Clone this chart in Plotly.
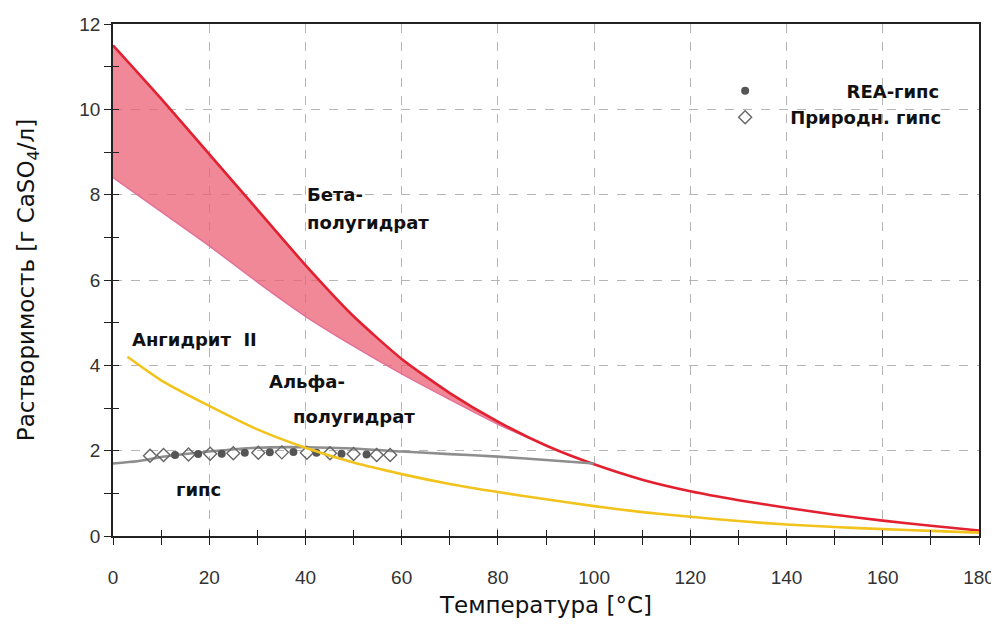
import plotly.graph_objects as go

# ---------------- data ----------------
T_beta = [0, 10, 20, 30, 40, 50, 60, 70, 80, 90, 100, 110, 120, 130, 140, 150, 160, 170, 180]
beta_upper = [11.5, 10.25, 8.95, 7.65, 6.35, 5.15, 4.15, 3.35, 2.68, 2.12, 1.68, 1.32, 1.05, 0.84, 0.66, 0.5, 0.36, 0.24, 0.13]

T_alpha = [0, 10, 20, 30, 40, 50, 60, 70, 80, 90]
beta_lower = [8.4, 7.6, 6.8, 5.95, 5.15, 4.45, 3.8, 3.2, 2.62, 2.12]

T_anh = [3, 10, 20, 30, 40, 50, 60, 70, 80, 90, 100, 110, 120, 130, 140, 150, 160, 170, 180]
anhydrite = [4.2, 3.65, 3.05, 2.5, 2.07, 1.72, 1.45, 1.22, 1.03, 0.86, 0.7, 0.56, 0.45, 0.35, 0.27, 0.21, 0.16, 0.12, 0.08]

T_gyp = [0, 5, 10, 15, 20, 30, 40, 50, 60, 70, 80, 90, 100]
gypsum = [1.7, 1.75, 1.85, 1.92, 1.98, 2.07, 2.08, 2.05, 1.98, 1.92, 1.86, 1.78, 1.7]

rea_T = [12.9, 17.7, 22.6, 27.4, 32.6, 37.5, 42.3, 47.5, 52.7]
rea_y = [1.9, 1.92, 1.93, 1.95, 1.96, 1.97, 1.95, 1.93, 1.91]

nat_T = [7.7, 10.5, 15.7, 20.2, 25.0, 30.2, 35.1, 40.3, 45.1, 50.0, 54.8, 57.6]
nat_y = [1.88, 1.9, 1.91, 1.93, 1.94, 1.95, 1.96, 1.95, 1.94, 1.92, 1.9, 1.9]

x_ticks = [0, 20, 40, 60, 80, 100, 120, 140, 160, 180]
y_ticks = [0, 2, 4, 6, 8, 10, 12]

NB = "\u00a0"

# ---------------- figure ----------------
fig = go.Figure()

SPL = dict(shape="spline", smoothing=0.6)

# shaded band between beta (upper) and alpha (lower) hemihydrate
band_x = T_alpha + T_alpha[::-1]
band_y = beta_lower + beta_upper[:len(T_alpha)][::-1]
fig.add_trace(go.Scatter(x=band_x, y=band_y, fill="toself", mode="lines",
                         line=dict(width=0, **SPL), fillcolor="rgba(236,96,116,0.75)",
                         hoverinfo="skip", showlegend=False))
fig.add_trace(go.Scatter(x=T_alpha, y=beta_lower, mode="lines",
                         line=dict(color="#e2719a", width=1.5, **SPL), showlegend=False))
fig.add_trace(go.Scatter(x=T_beta, y=beta_upper, mode="lines",
                         line=dict(color="#e3202f", width=2.6, **SPL), showlegend=False))
fig.add_trace(go.Scatter(x=T_anh, y=anhydrite, mode="lines",
                         line=dict(color="#f2c31c", width=2.6, **SPL), showlegend=False,
                         xaxis="x2", yaxis="y2"))
fig.add_trace(go.Scatter(x=T_gyp, y=gypsum, mode="lines",
                         line=dict(color="#8e8e8e", width=2.6, **SPL), showlegend=False))
fig.add_trace(go.Scatter(x=nat_T, y=nat_y, mode="markers", name="Природн." + NB + "гипс",
                         marker=dict(symbol="diamond-open", size=10, color="#666666",
                                     line=dict(width=1.4)), legendrank=2))
fig.add_trace(go.Scatter(x=rea_T, y=rea_y, mode="markers", name=NB * 9 + "REA-гипс",
                         marker=dict(symbol="circle", size=8, color="#555555"), legendrank=1))

tickfont = dict(family="Liberation Sans Narrow, Liberation Sans, Arial", size=19, color="#333333")
axis_common = dict(showline=True, linecolor="#222222", linewidth=1.5, mirror=True,
                   ticks="outside", ticklen=7, tickcolor="#222222", tickwidth=1.3,
                   showgrid=True, gridcolor="#b5b5b5", griddash="dash", gridwidth=1,
                   zeroline=False, tickfont=tickfont, automargin=False)

title_font = dict(family="DejaVu Sans, Liberation Sans, Arial", size=23, color="#111111")

fig.update_layout(
    width=999, height=624,
    margin=dict(l=105, r=28, t=16, b=96),
    paper_bgcolor="white", plot_bgcolor="white",
    xaxis=dict(range=[0, 180], tickvals=x_ticks, ticktext=[str(v) for v in x_ticks],
               minor=dict(dtick=10, tick0=0, ticks="outside", ticklen=7, tickcolor="#222222", showgrid=False),
               ticklabelstandoff=16,
               title=dict(text="Температура [°C]", standoff=10, font=title_font),
               **axis_common),
    yaxis=dict(range=[0, 12], tickvals=y_ticks, ticktext=[str(v) for v in y_ticks],
               minor=dict(dtick=1, tick0=0, ticks="outside", ticklen=7, tickcolor="#222222", showgrid=False),
               ticklabelstandoff=0,
               title=dict(text="Растворимость [г CaSO<sub>4</sub>/л]", standoff=38, font=title_font),
               **axis_common),
    xaxis2=dict(overlaying="x", range=[0, 180], tickvals=x_ticks, showticklabels=False,
                ticks="inside", ticklen=6, tickcolor="#222222", tickwidth=1.3,
                minor=dict(dtick=10, tick0=0, ticks="inside", ticklen=6, tickcolor="#222222"),
                showgrid=False, zeroline=False, showline=False),
    yaxis2=dict(overlaying="y", range=[0, 12], tickvals=y_ticks, showticklabels=False,
                ticks="inside", ticklen=6, tickcolor="#222222", tickwidth=1.3,
                minor=dict(dtick=1, tick0=0, ticks="inside", ticklen=6, tickcolor="#222222"),
                showgrid=False, zeroline=False, showline=False),
    legend=dict(x=0.678, y=0.905, xanchor="left", yanchor="top", itemwidth=80,
                bgcolor="rgba(255,255,255,0)", tracegroupgap=0,
                font=dict(family="DejaVu Sans, Liberation Sans, Arial", size=18, color="#111111", weight="bold")),
    showlegend=True,
)

ann_font = dict(family="DejaVu Sans, Liberation Sans, Arial", size=18, color="#111111", weight="bold")
labels = [
    ("Бета-", 40.0, 8.0),
    ("полугидрат", 40.0, 7.35),
    ("Ангидрит" + NB + NB + "II", 3.5, 4.6),
    ("Альфа-", 32.0, 3.63),
    ("полугидрат", 37.0, 2.8),
    ("гипс", 12.6, 1.1),
]
for txt, x, y in labels:
    fig.add_annotation(x=x, y=y, text=txt, showarrow=False, xanchor="left",
                       yanchor="middle", font=ann_font)

fig.write_html("out.html")
